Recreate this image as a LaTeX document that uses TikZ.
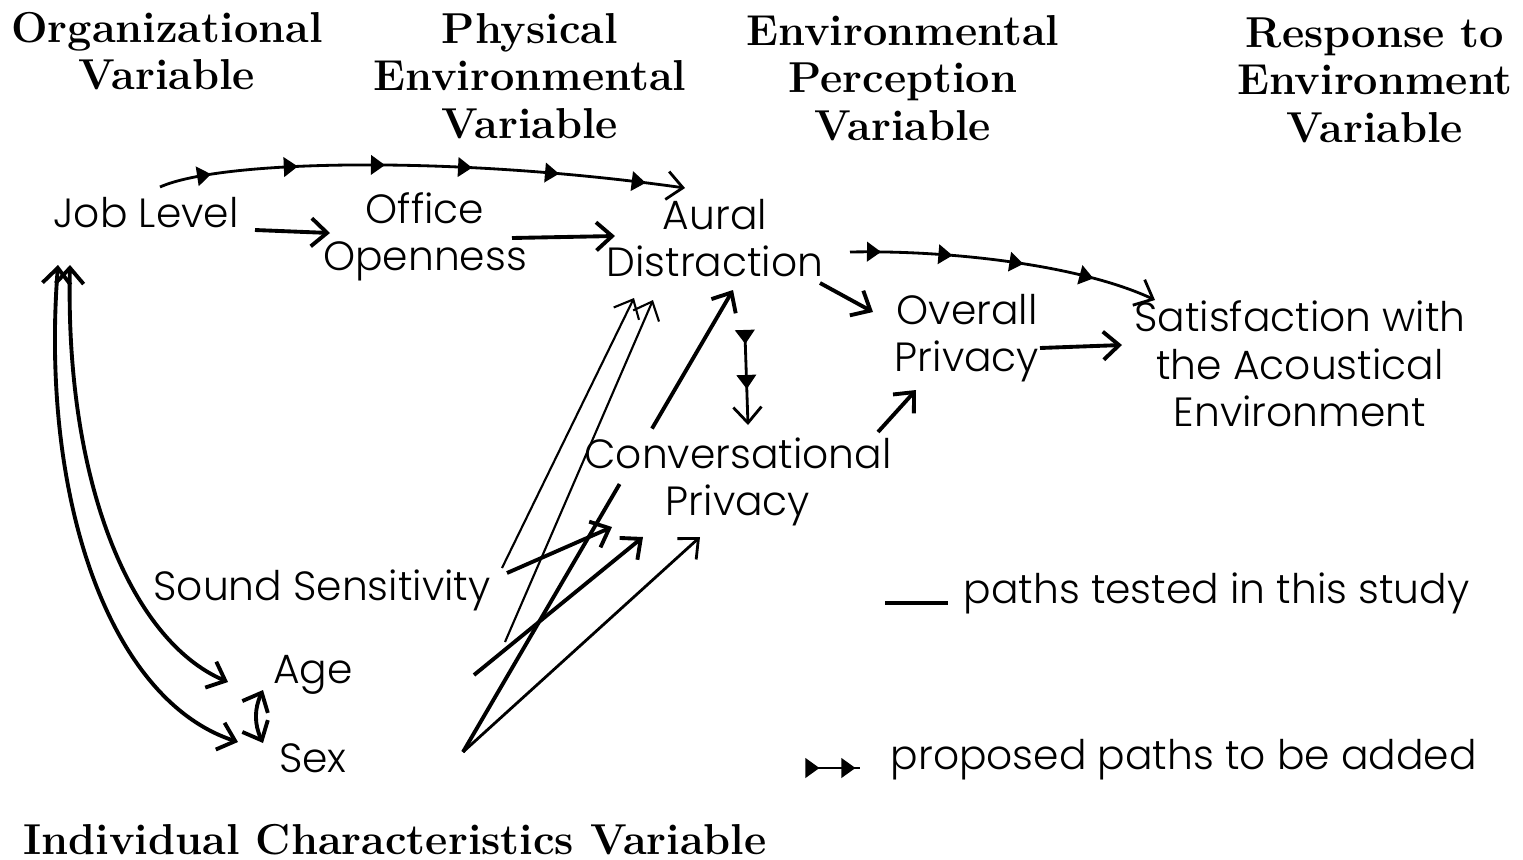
\documentclass[tikz,border=0pt]{standalone}
\usepackage{fontspec}
\newfontfamily\lettering{Poppins Light}
\usetikzlibrary{arrows.meta,calc,decorations.markings}

\begin{document}
\begin{tikzpicture}[x=0.01cm,y=-0.01cm,>={Straight Barb[length=4.5pt,width=8pt]}]
	\tikzstyle{every node}=[inner sep=0pt,align=center,font=\lettering\fontsize{11.6}{13.5}\selectfont]
	\tikzstyle{head}=[font=\bfseries\fontsize{12.3}{13.5}\selectfont]
	\tikzstyle{tested}=[draw,->,line width=1.1pt]
	\tikzstyle{faint}=[draw,->,line width=0.6pt]
	\tikzstyle{proposed}=[draw,->,line width=0.8pt,postaction={decorate,decoration={markings,mark=between positions 0.1 and 0.95 step #1 with {\arrow{Triangle[length=4pt,width=5.5pt]}}}}]

	\path[use as bounding box,fill=white] (0,0) rectangle (1523,860);

	\node[head] (orgvar) at (167,51) {Organizational\\Variable};
	\node[head] (physvar) at (530,76) {Physical\\Environmental\\Variable};
	\node[head] (percvar) at (903,78) {Environmental\\Perception\\Variable};
	\node[head] (respvar) at (1375,80) {Response to\\Environment\\Variable};
	\node[head] (indvar) at (395,840) {Individual Characteristics Variable};

	\node (job) at (146,213) {Job Level};
	\node (office) at (425,237) {Office\\Openness};
	\node (aural) at (715,238) {Aural\\Distraction};
	\node (overall) at (967,338) {Overall\\Privacy};
	\node (satis) at (1300,364) {Satisfaction with\\the Acoustical\\Environment};
	\node (conv) at (738,482) {Conversational\\Privacy};
	\node (sound) at (322,590) {Sound Sensitivity};
	\node (age) at (313,675) {Age};
	\node (sex) at (313,758) {Sex};

	\draw[tested] ([shift={(109,17)}]job.center) -- ([shift={(-95,-4)}]office.center);
	\draw[tested] ([shift={(87,1)}]office.center) -- ([shift={(-100,-2)}]aural.center);
	\draw[tested] ([shift={(105,45)}]aural.center) -- ([shift={(-94,-26)}]overall.center);
	\draw[tested] ([shift={(140,-50)}]conv.center) -- ([shift={(-51,52)}]overall.center);
	\draw[tested] ([shift={(73,10)}]overall.center) -- ([shift={(-178,-19)}]satis.center);

	\draw[faint] ([shift={(180,-22)}]sound.center) -- ([shift={(-81,60)}]aural.center);
	\draw[tested] ([shift={(185,-17)}]sound.center) -- ([shift={(-126,45)}]conv.center);
	\draw[faint] ([shift={(192,-33)}]age.center) -- ([shift={(-62,62)}]aural.center);
	\draw[tested] ([shift={(161,0)}]age.center) -- ([shift={(-95,55)}]conv.center);
	\draw[tested,line width=0.8pt] ([shift={(150,-6)}]sex.center) -- ([shift={(-38,55)}]conv.center);
	\coordinate (sexfoot) at ([shift={(150,-6)}]sex.center);
	\coordinate (auralfoot) at ([shift={(18,52)}]aural.center);
	\draw[tested] (sexfoot) -- ($(sexfoot)!0.58!(auralfoot)$) ($(sexfoot)!0.70!(auralfoot)$) -- (auralfoot);

	\draw[tested,<->] ([shift={(-76,52)}]job.center) .. controls (65,480) and (130,640) .. ([shift={(-85,7)}]age.center);
	\draw[tested,<->] ([shift={(-88,52)}]job.center) .. controls (40,500) and (110,700) .. ([shift={(-75,-16)}]sex.center);
	\draw[tested,<->] ([shift={(-50,15)}]age.center) to[bend right=25] ([shift={(-50,-15)}]sex.center);

	\draw[proposed=0.165] ([shift={(14,-26)}]job.center) .. controls (220,160) and (450,155) .. ([shift={(-30,-50)}]aural.center);
	\draw[proposed=0.23] ([shift={(135,14)}]aural.center) .. controls (950,250) and (1080,265) .. ([shift={(-145,-64)}]satis.center);
	\draw[proposed=0.5] ([shift={(30,97)}]aural.center) -- ([shift={(10,-57)}]conv.center);

	\node[anchor=west] (keytested) at (963,593) {paths tested in this study};
	\node[anchor=west] (keyproposed) at (890,760) {proposed paths to be added};
	\draw[line width=1.1pt] ([shift={(-78,10)}]keytested.west) -- ([shift={(-15,10)}]keytested.west);
	\draw[proposed=0.8,-] ([shift={(-75,8)}]keyproposed.west) -- ([shift={(-30,8)}]keyproposed.west);
\end{tikzpicture}
\end{document}
